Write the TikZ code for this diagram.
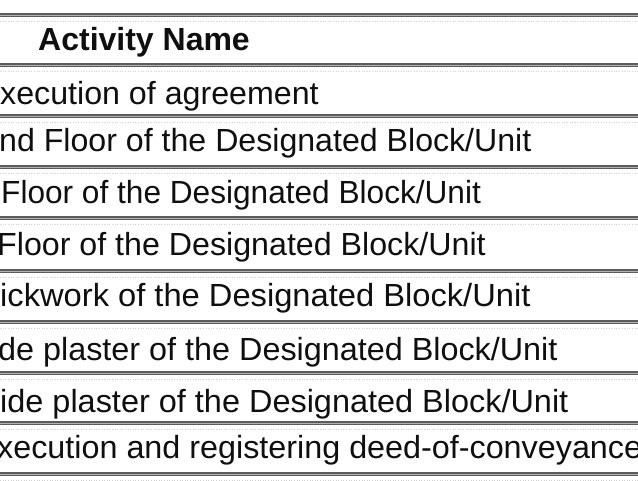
\documentclass[tikz,border=0pt]{standalone}
\usepackage{fontspec}
\setmainfont{Liberation Sans}
\usepackage{xcolor}
\definecolor{rl}{gray}{0.36}
\definecolor{dt}{gray}{0.82}
\definecolor{tx}{gray}{0.06}

\begin{document}
\begin{tikzpicture}[x=1pt,y=-1pt,
rule/.style={draw=rl, double=gray!60, double distance=0.7pt, line width=1.3pt},
cell/.style={anchor=base west, inner sep=0pt, text=tx, font=\fontsize{32}{38}\selectfont}]
\useasboundingbox (0,0) rectangle (638,480);
\clip (0,0) rectangle (638,480);
\fill[white] (0,0) rectangle (638,480);
% row rules
\foreach \y in {15,65,116,167,218,271,322,373,423,474}{
\draw[rule] (-5,\y) -- (645,\y);
\draw[dt, dotted, line width=0.6pt] (-5,\y+6) -- (645,\y+6);
}
\node[cell, font=\bfseries\fontsize{32}{38}\selectfont] (head) at (38,50) {Activity Name};
\foreach \i/\x/\y/\s/\txt in {
1/0/104/1.006/{xecution of agreement},
2/-1/151/1.004/{nd Floor of the Designated Block/Unit},
3/1/203/0.988/{Floor of the Designated Block/Unit},
4/-3/255/1.006/{Floor of the Designated Block/Unit},
5/0/306/1.021/{ickwork of the Designated Block/Unit},
6/-2/360/1.011/{de plaster of the Designated Block/Unit},
7/0/412/1.014/{ide plaster of the Designated Block/Unit},
8/-3/458/1.01/{xecution and registering deed-of-conveyance}
}{
\node[cell] (r\i) at (\x,\y) {\scalebox{\s}[1]{\txt}};
}
\end{tikzpicture}
\end{document}
